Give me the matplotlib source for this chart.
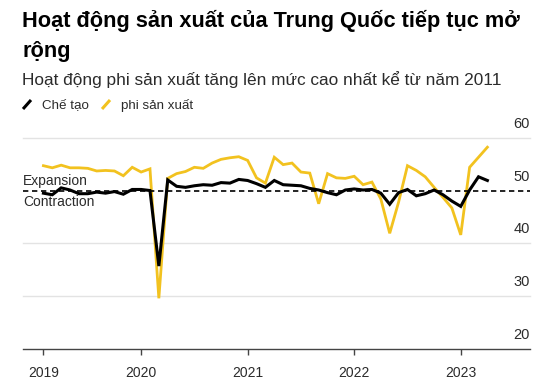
import numpy as np
from matplotlib import pyplot as plt
from matplotlib.lines import Line2D

plt.rcParams['font.family'] = ['Liberation Sans', 'DejaVu Sans']

# monthly PMI, Jan 2019 .. Mar 2023 (plotted at month end)
manufacturing = [49.5, 49.2, 50.5, 50.1, 49.4, 49.4, 49.7, 49.5, 49.8, 49.3, 50.2, 50.2,
                 50.0, 35.7, 52.0, 50.8, 50.6, 50.9, 51.1, 51.0, 51.5, 51.4, 52.1, 51.9,
                 51.3, 50.6, 51.9, 51.1, 51.0, 50.9, 50.4, 50.1, 49.6, 49.2, 50.1, 50.3,
                 50.1, 50.2, 49.5, 47.4, 49.6, 50.2, 49.0, 49.4, 50.1, 49.2, 48.0, 47.0,
                 50.1, 52.6, 51.9]
non_manufacturing = [54.7, 54.3, 54.8, 54.3, 54.3, 54.2, 53.7, 53.8, 53.7, 52.8, 54.4, 53.5,
                     54.1, 29.6, 52.3, 53.2, 53.6, 54.4, 54.2, 55.2, 55.9, 56.2, 56.4, 55.7,
                     52.4, 51.4, 56.3, 54.9, 55.2, 53.5, 53.3, 47.5, 53.2, 52.4, 52.3, 52.7,
                     51.1, 51.6, 48.4, 41.9, 47.8, 54.7, 53.8, 52.6, 50.6, 48.7, 46.7, 41.6,
                     54.4, 56.3, 58.2]
year_labels = ['2019', '2020', '2021', '2022', '2023']
year_pos = [1, 12, 24, 36, 48]
y_labels = [20, 30, 40, 50, 60]

months = np.arange(1, len(manufacturing) + 1)

YELLOW = '#f2c21f'
TEXT = '#2b2b2b'

fig = plt.figure(figsize=(5.6, 3.85), dpi=100)
ax = fig.add_axes([23 / 560, 36 / 385, 507 / 560, 211.3 / 385])

# grid
for v in [60, 40, 30]:
    ax.axhline(v, color='#e3e3e3', lw=1.0, zorder=0, clip_on=False)
ax.axhline(50, color='black', lw=1.2, ls=(0, (3.2, 2.2)), zorder=3)

# lines
ax.plot(months, non_manufacturing, color=YELLOW, lw=2.0, solid_joinstyle='miter', zorder=2)
ax.plot(months, manufacturing, color='black', lw=2.2, solid_joinstyle='miter', zorder=4)

ax.set_xlim(-1.3, 55.8)
ax.set_ylim(20, 60)

# axes
for s in ['top', 'right', 'left']:
    ax.spines[s].set_visible(False)
ax.spines['bottom'].set_color('#444444')
ax.spines['bottom'].set_linewidth(1.0)
ax.set_yticks([])
ax.set_xticks(year_pos)
ax.set_xticklabels(year_labels, fontsize=10, color=TEXT)
ax.tick_params(axis='x', length=4, width=1.0, color='#444444', pad=8)

# y labels sit above the gridlines on the right
for v in y_labels:
    ax.annotate(str(v), xy=(1.0, v), xycoords=('axes fraction', 'data'),
                xytext=(0, 10), textcoords='offset points',
                ha='right', va='center', fontsize=10.5, color=TEXT)

ax.annotate('Expansion', xy=(0, 50), xycoords=('axes fraction', 'data'),
            xytext=(0, 6.6), textcoords='offset points',
            ha='left', va='center', fontsize=10, color=TEXT)
ax.annotate('Contraction', xy=(0, 50), xycoords=('axes fraction', 'data'),
            xytext=(0, -8.6), textcoords='offset points',
            ha='left', va='center', fontsize=10, color=TEXT)

# title / subtitle
fig.text(22 / 560, 1 - 27 / 385, 'Hoạt động sản xuất của Trung Quốc tiếp tục mở',
         fontsize=15.7, fontweight='bold', color='black', ha='left', va='baseline')
fig.text(22 / 560, 1 - 57 / 385, 'rộng',
         fontsize=15.7, fontweight='bold', color='black', ha='left', va='baseline')
fig.text(22 / 560, 1 - 85 / 385, 'Hoạt động phi sản xuất tăng lên mức cao nhất kể từ năm 2011',
         fontsize=12.4, color=TEXT, ha='left', va='baseline')

# legend
def legend_item(x, color, label):
    fig.add_artist(Line2D([x / 560, (x + 8) / 560], [1 - 109 / 385, 1 - 100 / 385],
                          color=color, lw=2.2, solid_capstyle='butt'))
    fig.text((x + 19) / 560, 1 - 105 / 385, label, fontsize=9.6, color=TEXT,
             ha='left', va='center')

legend_item(23, 'black', 'Chế tạo')
legend_item(102, YELLOW, 'phi sản xuất')

fig.savefig('out.png', dpi=100)
